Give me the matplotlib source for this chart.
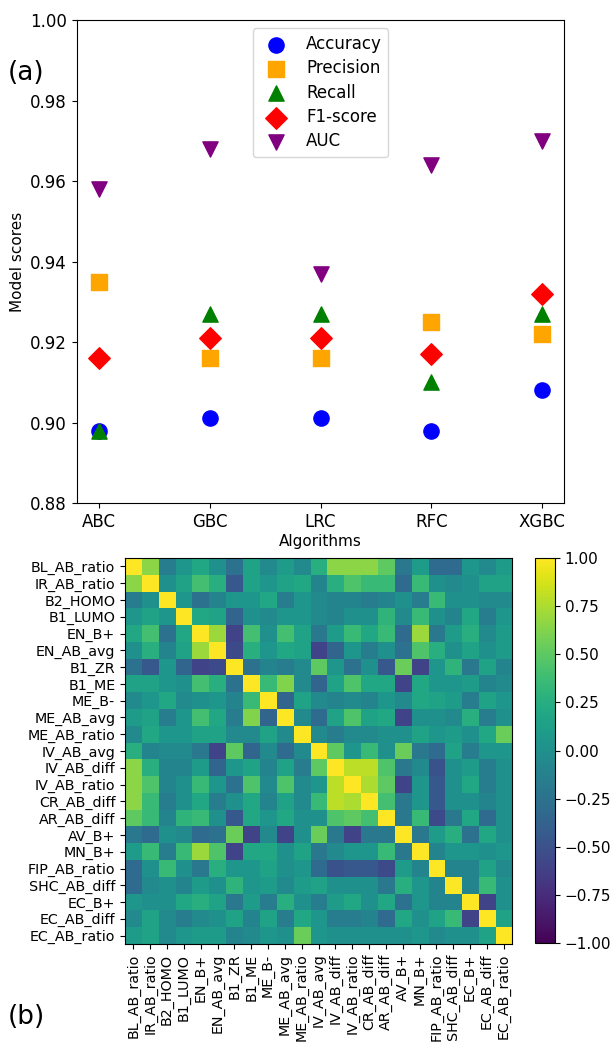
import numpy as np
from matplotlib import pyplot as plt

# (a) model scores
algorithms = ['ABC', 'GBC', 'LRC', 'RFC', 'XGBC']
accuracy = [0.898, 0.901, 0.901, 0.898, 0.908]
precision = [0.935, 0.916, 0.916, 0.925, 0.922]
recall = [0.898, 0.927, 0.927, 0.910, 0.927]
f1_score = [0.916, 0.921, 0.921, 0.917, 0.932]
auc = [0.958, 0.968, 0.937, 0.964, 0.970]

# (b) feature correlation, lower triangle read row by row
features = ['BL_AB_ratio', 'IR_AB_ratio', 'B2_HOMO', 'B1_LUMO', 'EN_B+', 'EN_AB_avg',
            'B1_ZR', 'B1_ME', 'ME_B-', 'ME_AB_avg', 'ME_AB_ratio', 'IV_AB_avg',
            'IV_AB_diff', 'IV_AB_ratio', 'CR_AB_diff', 'AR_AB_diff', 'AV_B+', 'MN_B+',
            'FIP_AB_ratio', 'SHC_AB_diff', 'EC_B+', 'EC_AB_diff', 'EC_AB_ratio']
lower = [
    [],
    [0.65],
    [-0.15, 0.0],
    [0.05, 0.15, 0.05],
    [0.2, 0.4, -0.25, 0.2],
    [0.0, 0.25, -0.1, 0.15, 0.7],
    [-0.25, -0.45, 0.05, -0.35, -0.6, -0.55],
    [0.15, 0.15, 0.05, 0.0, 0.4, 0.25, -0.25],
    [-0.05, 0.05, 0.2, -0.05, 0.0, 0.05, -0.1, 0.35],
    [0.1, 0.15, -0.15, 0.05, 0.4, 0.2, -0.15, 0.62, -0.35],
    [-0.05, 0.2, 0.05, 0.05, 0.15, 0.15, -0.05, -0.05, 0.15, -0.05],
    [0.25, -0.1, -0.05, -0.05, -0.2, -0.6, 0.5, -0.35, -0.05, -0.3, -0.05],
    [0.65, 0.25, -0.1, -0.1, 0.1, -0.35, 0.05, 0.15, -0.1, 0.15, -0.15, 0.5],
    [0.65, 0.45, -0.1, 0.0, 0.35, 0.05, -0.25, 0.45, -0.05, 0.45, -0.05, 0.05, 0.8],
    [0.65, 0.35, -0.15, 0.0, 0.2, -0.15, 0.0, 0.2, -0.1, 0.15, -0.05, 0.35, 0.8, 0.75],
    [0.5, 0.35, -0.1, 0.3, 0.35, 0.0, -0.45, 0.2, 0.05, 0.2, 0.0, 0.0, 0.45, 0.5, 0.4],
    [-0.2, -0.3, 0.0, -0.05, -0.3, -0.25, 0.55, -0.6, -0.05, -0.6, 0.0, 0.55, -0.2, -0.6,
     -0.2, -0.2],
    [0.1, 0.35, -0.15, 0.35, 0.7, 0.45, -0.6, 0.2, 0.2, 0.0, 0.15, -0.2, -0.05, 0.05, 0.05,
     0.35, -0.2],
    [-0.3, 0.0, 0.35, 0.0, -0.2, 0.25, 0.05, 0.05, 0.15, 0.0, 0.05, -0.3, -0.5, -0.45, -0.45,
     -0.55, 0.1, -0.1],
    [-0.3, -0.05, 0.0, -0.1, 0.1, 0.0, 0.3, 0.05, 0.1, -0.05, 0.1, 0.15, 0.0, 0.0, 0.0,
     -0.2, 0.25, 0.05, -0.1],
    [0.05, 0.0, 0.0, 0.2, 0.25, 0.15, -0.2, 0.1, -0.15, 0.25, 0.0, -0.15, 0.1, 0.2, 0.0,
     0.2, -0.25, 0.05, -0.1, -0.1],
    [-0.05, 0.15, -0.05, -0.15, -0.05, 0.0, 0.15, -0.1, 0.15, -0.15, 0.2, 0.05, -0.15, -0.15,
     -0.1, -0.3, 0.2, 0.0, 0.15, 0.35, -0.6],
    [0.1, 0.15, -0.05, 0.05, 0.1, 0.1, -0.1, -0.05, 0.05, 0.0, 0.55, 0.05, 0.0, 0.0, 0.0,
     0.0, 0.0, 0.05, -0.05, 0.0, 0.0, 0.15],
]

n = len(features)
corr = np.eye(n)
for i, row in enumerate(lower):
    for j, v in enumerate(row):
        corr[i, j] = v
        corr[j, i] = v

fig = plt.figure(figsize=(6.14, 10.53), dpi=100)

ax1 = fig.add_axes([0.1249, 0.5223, 0.7943, 0.4587])
x = np.arange(len(algorithms))
ax1.scatter(x, accuracy, s=120, c='blue', marker='o', label='Accuracy')
ax1.scatter(x, precision, s=120, c='orange', marker='s', label='Precision')
ax1.scatter(x, recall, s=120, c='green', marker='^', label='Recall')
ax1.scatter(x, f1_score, s=120, c='red', marker='D', label='F1-score')
ax1.scatter(x, auc, s=120, c='purple', marker='v', label='AUC')
ax1.set_xticks(x)
ax1.set_xticklabels(algorithms, fontsize=12)
ax1.set_ylim(0.88, 1.00)
ax1.set_yticks([0.88, 0.90, 0.92, 0.94, 0.96, 0.98, 1.00])
ax1.tick_params(axis='y', labelsize=12)
ax1.set_xlabel('Algorithms', fontsize=11, labelpad=2)
ax1.set_ylabel('Model scores', fontsize=11)
ax1.legend(loc='upper center', fontsize=12, labelspacing=0.38)
fig.text(0.012, 0.924, '(a)', fontsize=19)

ax2 = fig.add_axes([0.2036, 0.1035, 0.6306, 0.3665])
im = ax2.imshow(corr, cmap='viridis', vmin=-1, vmax=1, aspect='auto')
ax2.set_xticks(np.arange(n))
ax2.set_yticks(np.arange(n))
ax2.set_xticklabels(features, rotation=90, fontsize=10.3)
ax2.set_yticklabels(features, fontsize=10.3)
cax = fig.add_axes([0.8713, 0.1045, 0.0326, 0.3655])
cb = fig.colorbar(im, cax=cax)
cb.set_ticks([-1, -0.75, -0.5, -0.25, 0, 0.25, 0.5, 0.75, 1])
cb.ax.tick_params(labelsize=11)
fig.text(0.012, 0.028, '(b)', fontsize=19)

fig.savefig('out.png', dpi=100)
